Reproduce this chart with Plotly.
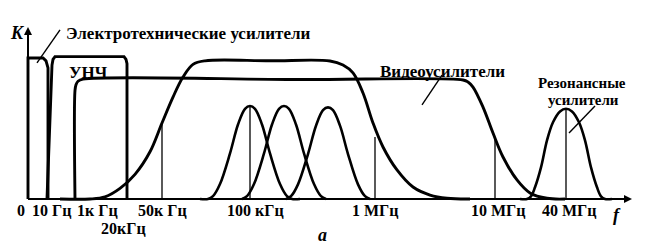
import plotly.graph_objects as go

# ---- data (schematic positions along f axis, relative gain K) ----
electro_x = [28, 28, 43, 46, 48, 48]
electro_k = [0, 1.0, 1.0, 0.98, 0.93, 0]

unch_x = [47, 52, 53, 55, 124, 126, 127, 127]
unch_k = [0, 0.95, 0.99, 1.01, 1.01, 0.99, 0.96, 0]

wide_x = [75, 75, 76, 78, 83, 300, 463, 468, 473, 483, 493, 503, 517, 530, 547, 565]
wide_k = [0, 0.77, 0.81, 0.835, 0.85, 0.847, 0.844, 0.83, 0.794, 0.652, 0.468, 0.298, 0.135, 0.043, 0.005, 0]

video_x = [60, 90, 105, 120, 135, 150, 162, 173, 183, 193, 205, 270, 330, 343, 353, 363, 373, 383, 397, 413, 430, 447, 470]
video_k = [0, 0, 0.015, 0.075, 0.175, 0.335, 0.539, 0.723, 0.865, 0.955, 0.98, 0.98, 0.979, 0.95, 0.894, 0.752, 0.539, 0.369, 0.206, 0.085, 0.028, 0.005, 0]

bell1_x = [200, 208, 213, 220, 230, 238, 245, 250, 255, 262, 270, 280, 287, 292, 300]
bell1_k = [0, 0, 0.02, 0.106, 0.323, 0.528, 0.64, 0.66, 0.64, 0.528, 0.323, 0.106, 0.02, 0, 0]
bell2_x = [242, 247, 254, 264, 272, 279, 284, 289, 296, 304, 314, 321, 326]
bell2_k = [0, 0.02, 0.106, 0.323, 0.528, 0.64, 0.66, 0.64, 0.528, 0.323, 0.106, 0.02, 0]
bell3_x = [286, 291, 298, 308, 316, 323, 328, 333, 340, 348, 358, 365, 370]
bell3_k = [0, 0.02, 0.104, 0.319, 0.52, 0.63, 0.65, 0.63, 0.52, 0.319, 0.104, 0.02, 0]
reson_x = [520, 527, 531, 535, 541, 547, 553, 560, 566, 572, 579, 585, 591, 597, 601, 605, 612]
reson_k = [0, 0, 0.019, 0.083, 0.224, 0.416, 0.544, 0.621, 0.64, 0.621, 0.544, 0.416, 0.224, 0.083, 0.019, 0, 0]

marker_x = [162, 250, 375, 495, 566]
marker_top = [0.539, 0.66, 0.44, 0.44, 0.64]

tick_pos = [21, 51, 97, 162, 255, 375, 498, 569]
tick_labels = ["0", "10 Гц", "1к Гц", "50к Гц", "100 кГц", "1 МГц", "10 МГц", "40 МГц"]
tick2_pos = [123]
tick2_labels = ["20кГц"]

label_texts = ["Электротехнические усилители", "УНЧ", "Видеоусилители", "Резонансные", "усилители"]
label_x = [188, 88, 442, 582, 583]
label_k = [1.177, 0.894, 0.901, 0.823, 0.702]

pointer_x0 = [60, 442, 595]
pointer_k0 = [1.199, 0.879, 0.66]
pointer_x1 = [37, 422, 569]
pointer_k1 = [0.965, 0.667, 0.468]

BASE_X0, BASE_X1 = 28, 632
AXIS_TOP = 1.22

fig = go.Figure()
LW = 2.9
def add(x, y, shape="linear", w=LW):
    fig.add_trace(go.Scatter(x=x, y=y, mode="lines", line=dict(color="black", width=w, shape=shape),
                             hoverinfo="skip", showlegend=False))

add(electro_x, electro_k)
add(unch_x, unch_k)
add(wide_x, wide_k, "spline")
add(video_x, video_k, "spline")
for bx, bk in [(bell1_x, bell1_k), (bell2_x, bell2_k), (bell3_x, bell3_k), (reson_x, reson_k)]:
    add(bx, bk, "spline", 2.6)

for mx, mt in zip(marker_x, marker_top):
    add([mx, mx], [0, mt], "linear", 1.3)

for x0, k0, x1, k1 in zip(pointer_x0, pointer_k0, pointer_x1, pointer_k1):
    add([x0, x1], [k0, k1], "linear", 1.4)

# axes
add([BASE_X0, BASE_X1 - 4], [0, 0], "linear", 2)
add([BASE_X0, BASE_X0], [0, AXIS_TOP - 0.03], "linear", 2)

ann = []
ann.append(dict(x=BASE_X1, y=0, ax=BASE_X1 - 20, ay=0, xref="x", yref="y", axref="x", ayref="y",
                showarrow=True, arrowhead=2, arrowsize=1, arrowwidth=1.6, arrowcolor="black", text=""))
ann.append(dict(x=BASE_X0, y=AXIS_TOP, ax=BASE_X0, ay=AXIS_TOP - 0.15, xref="x", yref="y", axref="x", ayref="y",
                showarrow=True, arrowhead=2, arrowsize=1, arrowwidth=1.6, arrowcolor="black", text=""))

FAM = "Liberation Serif, Times New Roman, serif"
font = dict(family=FAM, size=17, color="black")
tfont = dict(family=FAM, size=16, color="black")
sfont = dict(family=FAM, size=15, color="black")
for t, x in zip(tick_labels, tick_pos):
    ann.append(dict(x=x, y=-0.078, text="<b>%s</b>" % t, showarrow=False, font=tfont, xref="x", yref="y", borderpad=0))
for t, x in zip(tick2_labels, tick2_pos):
    ann.append(dict(x=x, y=-0.206, text="<b>%s</b>" % t, showarrow=False, font=tfont, xref="x", yref="y", borderpad=0))
for i, (t, x, k) in enumerate(zip(label_texts, label_x, label_k)):
    ann.append(dict(x=x, y=k, text="<b>%s</b>" % t, showarrow=False, font=(sfont if i >= 3 else font),
                    xref="x", yref="y", borderpad=0))

ifont = dict(family=FAM, size=18, color="black")
ann.append(dict(x=17, y=1.177, text="<b><i>K</i></b>", showarrow=False, font=ifont, xref="x", yref="y"))
ann.append(dict(x=617, y=-0.113, text="<b><i>f</i></b>", showarrow=False, font=ifont, xref="x", yref="y"))
ann.append(dict(x=322, y=-0.255, text="<b><i>a</i></b>", showarrow=False, font=ifont, xref="x", yref="y", borderpad=0))

fig.update_layout(
    width=652, height=246, margin=dict(l=0, r=0, t=0, b=0),
    paper_bgcolor="white", plot_bgcolor="white",
    xaxis=dict(range=[0, 652], visible=False, fixedrange=True),
    yaxis=dict(range=[-47 / 141, 199 / 141], visible=False, fixedrange=True),
    annotations=ann, showlegend=False,
)
fig.write_html("out.html")
